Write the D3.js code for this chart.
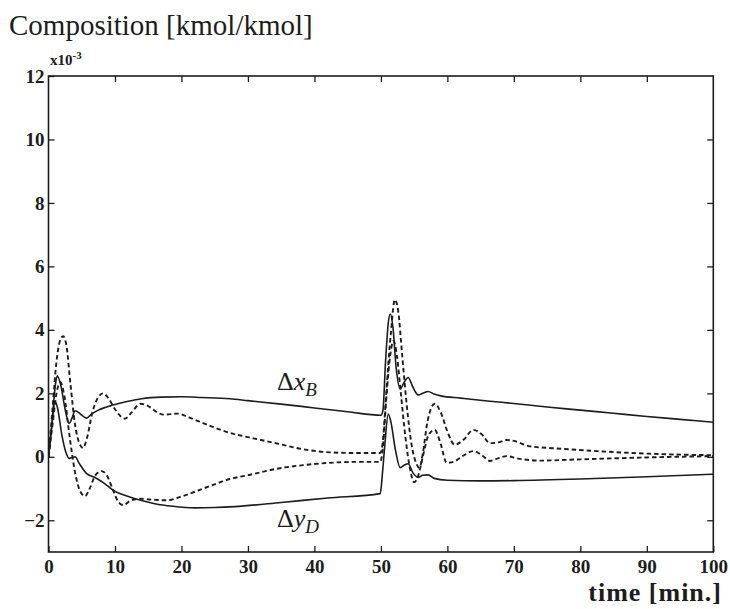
<!DOCTYPE html>
<html>
<head>
<meta charset="utf-8">
<script src="https://cdn.jsdelivr.net/npm/d3@7"></script>
<style>
  html, body { margin: 0; padding: 0; background: #fff; }
  svg { display: block; }
</style>
</head>
<body>
<svg id="chart" width="730" height="609"></svg>
<script>
// ---- data (time [min], composition x10^-3) ----
const xTicks = [0, 10, 20, 30, 40, 50, 60, 70, 80, 90, 100];
const yTicks = [-2, 0, 2, 4, 6, 8, 10, 12];

// solid: Δx_B
const solidXB = [[0,0],[0.5,1.0],[1.0,2.2],[1.3,2.55],[1.8,2.3],[2.5,1.5],[3.1,1.05],[3.5,1.2],[4.0,1.45],[4.8,1.35],[5.7,1.22],[6.5,1.35],[7.5,1.47],[9.7,1.63],[12,1.75],[14,1.83],[17,1.88],[20,1.89],[23,1.87],[27.3,1.83],[30,1.77],[35,1.66],[40,1.54],[45,1.42],[50,1.31],[50.3,1.45],[50.7,3.0],[51.1,4.2],[51.4,4.5],[51.8,4.1],[52.3,2.8],[52.9,2.14],[53.5,2.35],[54.1,2.5],[54.8,2.2],[55.6,1.95],[56.3,2.0],[57.1,2.06],[58,1.98],[59,1.92],[62,1.85],[66,1.76],[70,1.68],[75,1.57],[80,1.47],[85,1.37],[90,1.27],[95,1.18],[100,1.09]];

// solid: Δy_D
const solidYD = [[0,0],[0.5,1.0],[1.0,1.75],[1.4,1.5],[2,0.7],[2.6,0.15],[3.1,-0.05],[3.6,-0.02],[4.0,0.0],[4.6,-0.2],[5.7,-0.52],[7,-0.65],[8.5,-0.85],[9.7,-1.05],[12,-1.25],[14,-1.38],[16,-1.48],[18.7,-1.56],[22,-1.61],[25,-1.6],[28,-1.57],[35,-1.44],[42,-1.3],[49.9,-1.16],[50.2,-0.6],[50.6,0.4],[51.1,1.35],[51.5,1.1],[52.2,0.2],[52.9,-0.34],[53.6,-0.25],[54.1,-0.22],[54.8,-0.5],[55.6,-0.65],[56.3,-0.58],[57.1,-0.57],[58,-0.68],[60,-0.74],[65,-0.76],[70,-0.75],[80,-0.7],[90,-0.63],[100,-0.55]];

// dashed: upper comparison response
const dashedA = [[0,0],[0.6,1.5],[1.2,3.0],[1.8,3.7],[2.2,3.8],[2.7,3.5],[3.3,2.3],[4.0,1.0],[4.6,0.45],[5.2,0.28],[5.8,0.6],[6.6,1.4],[7.4,1.85],[8.2,2.0],[9,1.85],[10,1.5],[11.5,1.2],[12.5,1.4],[13.8,1.67],[15,1.6],[16.2,1.42],[17.3,1.33],[19.5,1.36],[21,1.25],[24,1.0],[27.3,0.75],[30,0.62],[34.8,0.4],[38,0.25],[42.3,0.14],[46,0.12],[49.9,0.12],[50.3,0.5],[50.8,2.0],[51.5,3.9],[52.1,4.95],[52.6,4.6],[53.2,3.2],[53.9,1.6],[54.6,0.4],[55.3,-0.2],[55.8,-0.35],[56.3,0.1],[57.0,1.1],[58.1,1.67],[59,1.4],[60,0.8],[61.1,0.38],[62.5,0.55],[63.9,0.85],[65.2,0.7],[66.4,0.43],[67.6,0.45],[68.9,0.53],[70,0.5],[72.4,0.33],[76,0.27],[82.5,0.18],[90,0.1],[100,0.05]];

// dashed: lower comparison response
const dashedB = [[0,0],[0.6,1.0],[1.2,2.0],[1.8,2.35],[2.4,1.9],[3.2,0.6],[4.0,-0.5],[4.8,-1.1],[5.5,-1.24],[6.2,-1.0],[7.0,-0.6],[8.0,-0.45],[8.8,-0.6],[9.8,-1.1],[10.6,-1.45],[11.3,-1.52],[12.2,-1.4],[13.8,-1.32],[15.5,-1.35],[17.8,-1.37],[20,-1.25],[23.8,-0.96],[27.3,-0.7],[30,-0.58],[34.8,-0.36],[38,-0.27],[42.3,-0.19],[46,-0.16],[49.9,-0.16],[50.3,0.3],[50.8,1.8],[51.4,3.2],[51.9,3.65],[52.4,3.2],[53,2.0],[53.7,0.6],[54.4,-0.4],[55,-0.8],[55.6,-0.6],[56.3,0.0],[57.2,0.7],[58.1,0.85],[59,0.4],[59.9,-0.19],[61,-0.15],[62.5,0.05],[63.9,0.18],[65.2,0.05],[66.4,-0.13],[67.6,-0.05],[68.9,0.02],[70.5,-0.05],[73.9,-0.12],[80,-0.08],[90,-0.02],[100,0.02]];

// ---- drawing ----
const svg = d3.select("#chart");
const L = 48.5, R = 713.3, T = 76, B = 552;
const x = d3.scaleLinear().domain([0, 100]).range([L, R]);
const y = d3.scaleLinear().domain([-3, 12]).range([B, T]);
const ink = "#1c1c1c";
const tickFont = "'Liberation Serif', 'Times New Roman', serif";

// axes
const gL = svg.append("g").attr("transform", `translate(${L},0)`)
  .call(d3.axisLeft(y).tickValues(yTicks).tickSize(-6).tickPadding(4).tickFormat(d3.format("d")));
const gB = svg.append("g").attr("transform", `translate(0,${B})`)
  .call(d3.axisBottom(x).tickValues(xTicks).tickSize(-6).tickPadding(8).tickFormat(d3.format("d")));
const gT = svg.append("g").attr("transform", `translate(0,${T})`)
  .call(d3.axisTop(x).tickValues(xTicks.slice(1, -1)).tickSize(-6).tickFormat(""));
const gR = svg.append("g").attr("transform", `translate(${R},0)`)
  .call(d3.axisRight(y).tickValues(yTicks.slice(0, -1)).tickSize(-6).tickFormat(""));

[gL, gB, gT, gR].forEach(g => {
  g.select(".domain").remove();
  g.selectAll(".tick line").attr("stroke", ink).attr("stroke-width", 1.3);
  g.selectAll(".tick text").attr("fill", ink)
    .style("font-family", tickFont).style("font-weight", "bold").style("font-size", "19px");
});

// frame
svg.append("rect").attr("x", L).attr("y", T).attr("width", R - L).attr("height", B - T)
  .attr("fill", "none").attr("stroke", ink).attr("stroke-width", 1.6);

// lines
const line = d3.line().x(d => x(d[0])).y(d => y(d[1])).curve(d3.curveMonotoneX);
svg.append("clipPath").attr("id", "clip").append("rect")
  .attr("x", L).attr("y", T).attr("width", R - L).attr("height", B - T);
const plot = svg.append("g").attr("clip-path", "url(#clip)");

[dashedA, dashedB].forEach(s => {
  plot.append("path").datum(s).attr("d", line).attr("fill", "none")
    .attr("stroke", ink).attr("stroke-width", 1.9).attr("stroke-dasharray", "4.5,3");
});
[solidXB, solidYD].forEach(s => {
  plot.append("path").datum(s).attr("d", line).attr("fill", "none")
    .attr("stroke", ink).attr("stroke-width", 1.6);
});

// title and units
svg.append("text").attr("x", 9).attr("y", 35)
  .style("font-family", tickFont).style("font-size", "29px").attr("fill", ink)
  .text("Composition [kmol/kmol]");

const ex = svg.append("text").attr("x", 50).attr("y", 65)
  .style("font-family", tickFont).style("font-weight", "bold").style("font-size", "15px").attr("fill", ink);
ex.append("tspan").text("x10");
ex.append("tspan").attr("dy", -6).style("font-size", "11px").text("-3");

svg.append("text").attr("x", 722).attr("y", 601).attr("text-anchor", "end")
  .style("font-family", tickFont).style("font-weight", "bold").style("font-size", "26px")
  .style("letter-spacing", "1px").attr("fill", ink)
  .text("time [min.]");

// curve labels
function mathLabel(px, py, v, sub) {
  const t = svg.append("text").attr("x", px).attr("y", py)
    .style("font-family", tickFont).style("font-size", "26px").attr("fill", ink);
  t.append("tspan").text("Δ");
  t.append("tspan").style("font-style", "italic").text(v);
  t.append("tspan").attr("dy", 6).style("font-style", "italic").style("font-size", "19px").text(sub);
}
mathLabel(277, 390, "x", "B");
mathLabel(277, 527, "y", "D");
</script>
</body>
</html>
